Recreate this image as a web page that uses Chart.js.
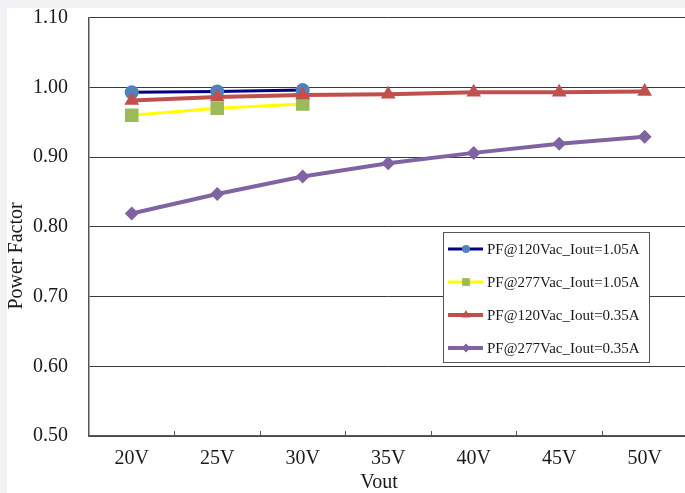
<!DOCTYPE html>
<html>
<head>
<meta charset="utf-8">
<script src="https://cdn.jsdelivr.net/npm/chart.js@4/dist/chart.umd.min.js"></script>
<style>
  html, body { margin: 0; padding: 0; background: #f2f2f4; overflow: hidden; width: 685px; height: 493px; }
  #wrap { position: absolute; left: 7px; top: 8px; width: 690px; height: 485px; background: #ffffff; }
</style>
</head>
<body>
<div id="wrap"><canvas id="c"></canvas></div>
<script>
// Output voltage categories
const vout = ['20V', '25V', '30V', '35V', '40V', '45V', '50V'];

// Power factor readings per test condition
const pf120Vac105A = [0.993, 0.994, 0.996];
const pf277Vac105A = [0.960, 0.970, 0.976];
const pf120Vac035A = [0.981, 0.986, 0.989, 0.990, 0.993, 0.993, 0.994];
const pf277Vac035A = [0.819, 0.847, 0.872, 0.891, 0.906, 0.919, 0.929];

const seriesLabels = [
  'PF@120Vac_Iout=1.05A',
  'PF@277Vac_Iout=1.05A',
  'PF@120Vac_Iout=0.35A',
  'PF@277Vac_Iout=0.35A'
];

const yTicks = [0.5, 0.6, 0.7, 0.8, 0.9, 1.0, 1.1];

const SERIF = '"Liberation Serif", "DejaVu Serif", serif';

function drawMarker(ctx, style, r, x, y, color) {
  ctx.save();
  ctx.fillStyle = color;
  ctx.beginPath();
  if (style === 'circle') {
    ctx.arc(x, y, r, 0, Math.PI * 2);
  } else if (style === 'rect') {
    const s = Math.SQRT1_2 * r;
    ctx.rect(x - s, y - s, 2 * s, 2 * s);
  } else if (style === 'triangle') {
    for (let k = 0; k < 3; k++) {
      const a = -Math.PI / 2 + k * 2 * Math.PI / 3;
      const px = x + Math.cos(a) * r, py = y + Math.sin(a) * r;
      if (k === 0) ctx.moveTo(px, py); else ctx.lineTo(px, py);
    }
    ctx.closePath();
  } else if (style === 'rectRot') {
    ctx.moveTo(x, y - r); ctx.lineTo(x + r, y); ctx.lineTo(x, y + r); ctx.lineTo(x - r, y);
    ctx.closePath();
  }
  ctx.fill();
  ctx.restore();
}

// Inner tick marks on the category axis, axis titles and the boxed legend
const decorations = {
  id: 'decorations',
  afterDraw(chart) {
    const ctx = chart.ctx;
    const xs = chart.scales.x;
    const area = chart.chartArea;

    ctx.save();
    ctx.strokeStyle = '#555555';
    ctx.lineWidth = 1;
    for (let i = 0; i < vout.length - 1; i++) {
      const px = Math.round((xs.getPixelForValue(i) + xs.getPixelForValue(i + 1)) / 2) + 0.5;
      ctx.beginPath();
      ctx.moveTo(px, area.bottom);
      ctx.lineTo(px, area.bottom - 5);
      ctx.stroke();
    }

    ctx.fillStyle = '#1a1a1a';
    ctx.font = '20px ' + SERIF;
    ctx.textAlign = 'center';
    ctx.textBaseline = 'middle';
    ctx.fillText('Vout', 372, 475);
    ctx.save();
    ctx.translate(10, 248);
    ctx.rotate(-Math.PI / 2);
    ctx.fillText('Power Factor', 0, 0);
    ctx.restore();

    // legend box
    const bx = 436, by = 224, bw = 206, bh = 130;
    ctx.fillStyle = '#ffffff';
    ctx.fillRect(bx, by, bw, bh);
    ctx.strokeStyle = '#555555';
    ctx.lineWidth = 1;
    ctx.strokeRect(bx + 0.5, by + 0.5, bw, bh);

    const rows = [241, 274, 307, 340];
    ctx.font = '15px ' + SERIF;
    ctx.textAlign = 'left';
    chart.data.datasets.forEach((ds, i) => {
      const y = rows[i];
      ctx.strokeStyle = ds.borderColor;
      ctx.lineWidth = ds.borderWidth;
      ctx.beginPath();
      ctx.moveTo(441, y);
      ctx.lineTo(476, y);
      ctx.stroke();
      drawMarker(ctx, ds.pointStyle, ds.legendRadius, 459, y, ds.pointBackgroundColor);
      ctx.fillStyle = '#1a1a1a';
      ctx.fillText(ds.label, 480, y + 1);
    });
    ctx.restore();
  }
};

new Chart(document.getElementById('c'), {
  type: 'line',
  data: {
    labels: vout,
    datasets: [
      {
        label: seriesLabels[0], data: pf120Vac105A,
        borderColor: '#000080', borderWidth: 3,
        pointStyle: 'circle', pointRadius: 7, legendRadius: 4,
        pointBackgroundColor: '#4f81bd', pointBorderWidth: 0, order: 4
      },
      {
        label: seriesLabels[1], data: pf277Vac105A,
        borderColor: '#ffff00', borderWidth: 3,
        pointStyle: 'rect', pointRadius: 9.6, legendRadius: 5.5,
        pointBackgroundColor: '#9bbb59', pointBorderWidth: 0, order: 3
      },
      {
        label: seriesLabels[2], data: pf120Vac035A,
        borderColor: '#c0504d', borderWidth: 4,
        pointStyle: 'triangle', pointRadius: 8.5, legendRadius: 5,
        pointBackgroundColor: '#c0504d', pointBorderWidth: 0, order: 2
      },
      {
        label: seriesLabels[3], data: pf277Vac035A,
        borderColor: '#8064a2', borderWidth: 4,
        pointStyle: 'rectRot', pointRadius: 7, legendRadius: 4.5,
        pointBackgroundColor: '#8064a2', pointBorderWidth: 0, order: 1
      }
    ]
  },
  options: {
    responsive: true,
    maintainAspectRatio: false,
    animation: false,
    layout: { padding: { top: 8, right: 6, left: 0, bottom: 0 } },
    plugins: { legend: { display: false }, tooltip: { enabled: false } },
    elements: { line: { tension: 0 } },
    scales: {
      x: {
        type: 'category',
        offset: true,
        afterFit(scale) { scale.height = 57; scale.paddingLeft = 0; scale.paddingRight = 0; },
        grid: { display: true, drawOnChartArea: false, drawTicks: false, offset: true },
        border: { display: true, color: '#555555', width: 1.5 },
        ticks: { color: '#1a1a1a', font: { family: SERIF, size: 20 }, padding: 11, maxRotation: 0 }
      },
      y: {
        min: 0.5, max: 1.1,
        afterFit(scale) { scale.width = 82; scale.paddingTop = 0; scale.paddingBottom = 0; },
        afterBuildTicks(scale) { scale.ticks = yTicks.map(v => ({ value: v })); },
        grid: { color: '#3a3a3a', lineWidth: 1, drawTicks: false },
        border: { display: true, color: '#555555', width: 1.5 },
        ticks: {
          color: '#1a1a1a', font: { family: SERIF, size: 20 }, padding: 21,
          callback: v => Number(v).toFixed(2)
        }
      }
    }
  },
  plugins: [decorations]
});
</script>
</body>
</html>
